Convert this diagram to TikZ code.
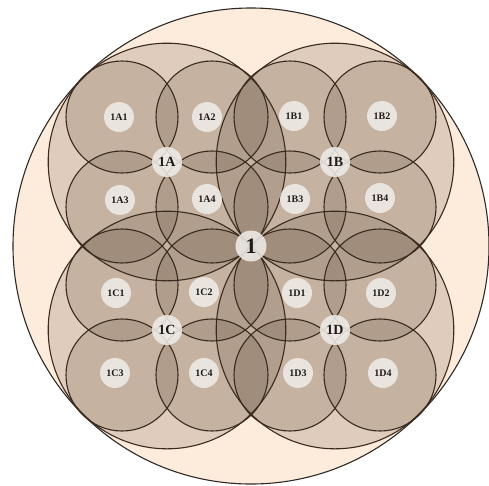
\documentclass[tikz,border=0pt]{standalone}
\usepackage{fontspec}
\setmainfont{Liberation Serif}
\definecolor{bigfill}{HTML}{FDEBDB}
\definecolor{shade}{HTML}{5F4B37}
\definecolor{ringline}{HTML}{3A2B1E}
\definecolor{outerline}{HTML}{2E2A27}
\definecolor{labelfill}{HTML}{EFEBE7}
\definecolor{labeltext}{HTML}{1E1A17}
\begin{document}
\begin{tikzpicture}[x=1pt,y=-1pt,
  lbl/.style={circle,fill=labelfill,fill opacity=0.88,text opacity=1,minimum size=30pt,inner sep=0pt,text=labeltext,font=\bfseries\fontsize{10}{10}\selectfont},
  grp/.style={lbl,font=\bfseries\fontsize{14}{14}\selectfont},
  rootlbl/.style={lbl,minimum size=31pt,font=\bfseries\fontsize{22}{22}\selectfont},
  medshade/.style={fill=shade,fill opacity=0.19},
  smallshade/.style={fill=shade,fill opacity=0.2},
  ring/.style={draw=ringline,line width=1.1pt},
  outer/.style={draw=outerline,line width=1.1pt}
]
\useasboundingbox (0,0) rectangle (489,485);
\coordinate (c1) at (251,246);
% outer disc
\fill[bigfill] (c1) circle[radius=238];
% fills
\foreach \gx/\gy in {-1/-1,1/-1,-1/1,1/1} {
  \fill[medshade] ({251+\gx*84},{246+\gy*84}) circle[radius=118.8];
}
\foreach \gx/\gy in {-1/-1,1/-1,-1/1,1/1} {
  \foreach \sx/\sy in {-1/-1,1/-1,-1/1,1/1} {
    \fill[smallshade] ({251+\gx*84+\sx*45},{246+\gy*84+\sy*45}) circle[radius=56];
  }
}
% strokes
\draw[outer] (c1) circle[radius=238];
\foreach \gx/\gy in {-1/-1,1/-1,-1/1,1/1} {
  \draw[ring] ({251+\gx*84},{246+\gy*84}) circle[radius=118.8];
  \foreach \sx/\sy in {-1/-1,1/-1,-1/1,1/1} {
    \draw[ring] ({251+\gx*84+\sx*45},{246+\gy*84+\sy*45}) circle[radius=56];
  }
}
% labels
\node[rootlbl] (n1) at (c1) {1};
\node[grp] (nA) at (167,162) {1A};
\node[grp] (nB) at (335,162) {1B};
\node[grp] (nC) at (167,330) {1C};
\node[grp] (nD) at (335,330) {1D};
\node[lbl] (nA1) at (119,117) {1A1};
\node[lbl] (nA2) at (207,117) {1A2};
\node[lbl] (nA3) at (120,200) {1A3};
\node[lbl] (nA4) at (207,199) {1A4};
\node[lbl] (nB1) at (294,116) {1B1};
\node[lbl] (nB2) at (382,116) {1B2};
\node[lbl] (nB3) at (295,199) {1B3};
\node[lbl] (nB4) at (380,198) {1B4};
\node[lbl] (nC1) at (116,293) {1C1};
\node[lbl] (nC2) at (204,292) {1C2};
\node[lbl] (nC3) at (115,373) {1C3};
\node[lbl] (nC4) at (204,373) {1C4};
\node[lbl] (nD1) at (297,293) {1D1};
\node[lbl] (nD2) at (381,293) {1D2};
\node[lbl] (nD3) at (298,373) {1D3};
\node[lbl] (nD4) at (383,373) {1D4};
\end{tikzpicture}
\end{document}
